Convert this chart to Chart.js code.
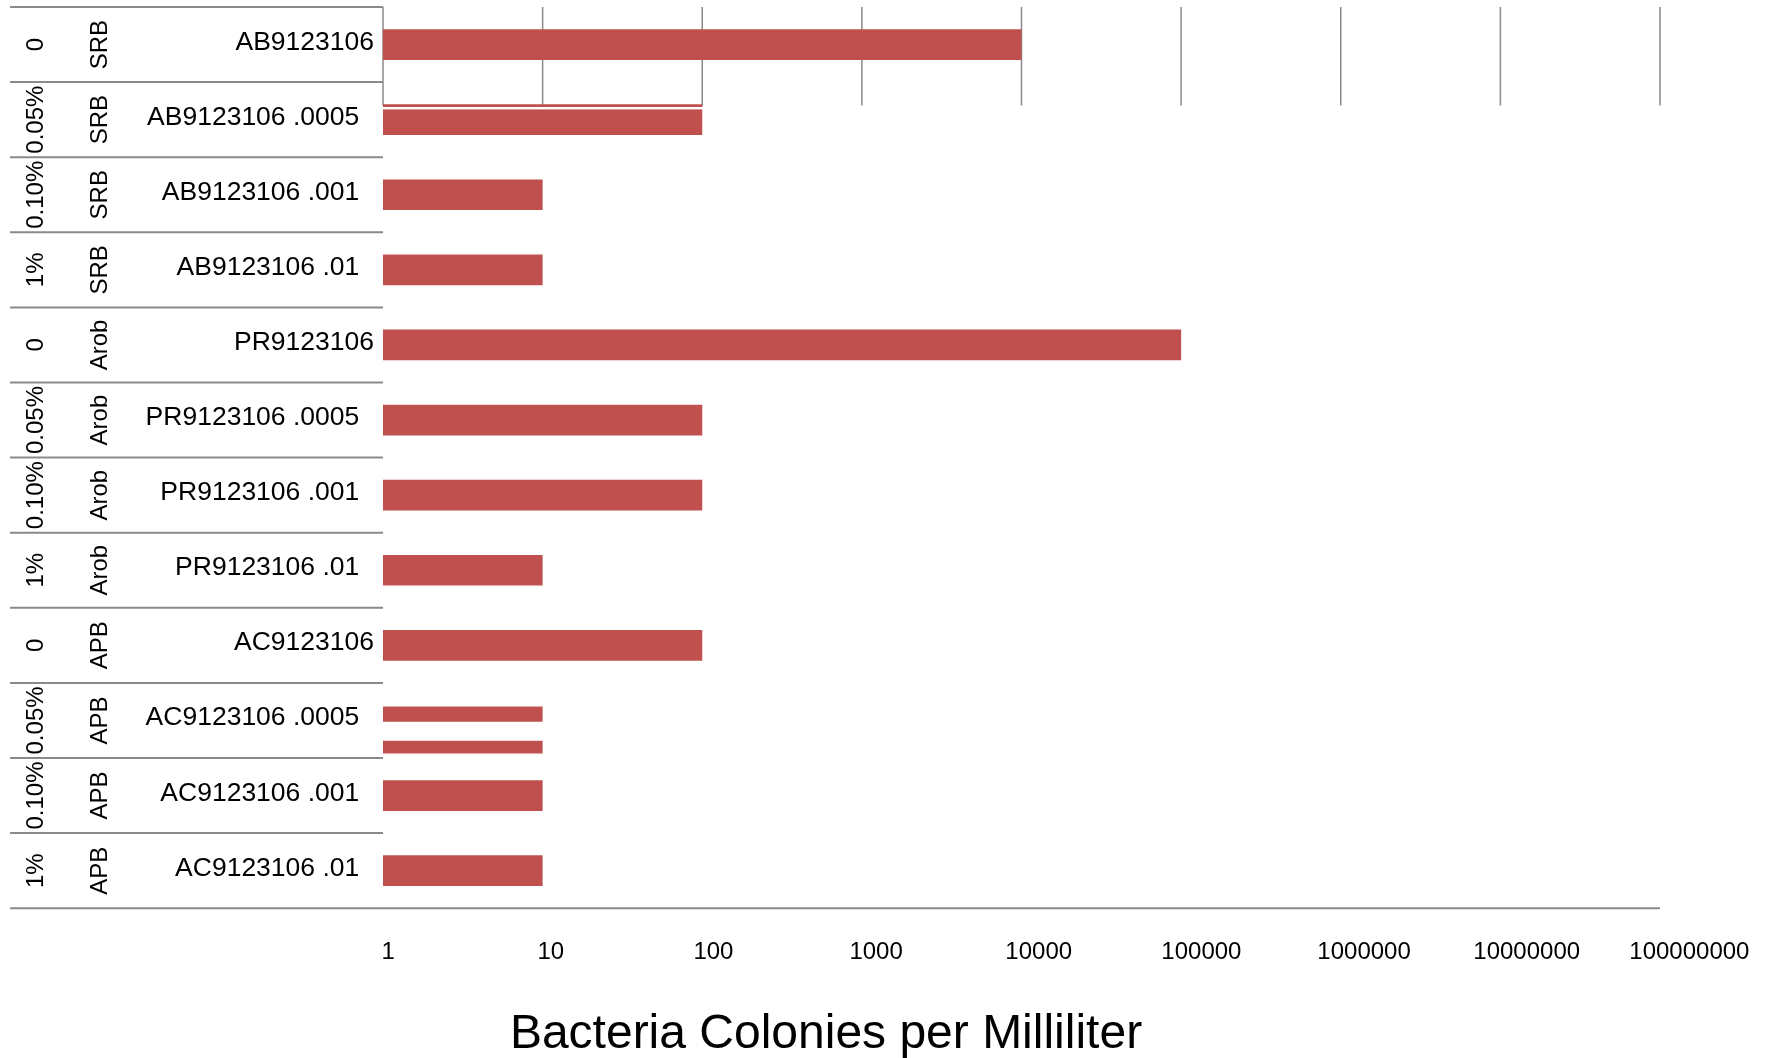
<!DOCTYPE html>
<html>
<head>
<meta charset="utf-8">
<script src="https://cdn.jsdelivr.net/npm/chart.js@4.4.1/dist/chart.umd.min.js"></script>
<style>
  html, body { margin: 0; padding: 0; background: #ffffff; }
  #wrap { width: 1769px; height: 1058px; }
</style>
</head>
<body>
<div id="wrap"><canvas id="chart" width="1769" height="1058"></canvas></div>
<script>
// Sample table: inhibitor concentration, bacteria group and sample id per row
const concentrations = ['0', '0.05%', '0.10%', '1%', '0', '0.05%', '0.10%', '1%', '0', '0.05%', '0.10%', '1%'];
const bacteriaTypes = ['SRB', 'SRB', 'SRB', 'SRB', 'Arob', 'Arob', 'Arob', 'Arob', 'APB', 'APB', 'APB', 'APB'];
const samples = [
  'AB9123106', 'AB9123106 .0005  ', 'AB9123106 .001  ', 'AB9123106 .01  ',
  'PR9123106', 'PR9123106 .0005  ', 'PR9123106 .001  ', 'PR9123106 .01  ',
  'AC9123106', 'AC9123106 .0005  ', 'AC9123106 .001  ', 'AC9123106 .01  '
];

// Colony counts (colonies / mL)
const colonies = [10000, 100, 10, 10, 100000, 100, 100, 10, 100, 10, 10, 10];
// Second reading, only taken for one sample
const repeatColonies = [null, null, null, null, null, null, null, null, null, 10, null, null];

// Log axis ticks
const tickValues = [1, 10, 100, 1000, 10000, 100000, 1000000, 10000000, 100000000];
const tickLabels = ['1', '10', '100', '1000', '10000', '100000', '1000000', '10000000', '100000000'];
const axisTitle = 'Bacteria Colonies per Milliliter';

const FONT = "'Liberation Sans', Arial, Helvetica, sans-serif";
const BAR = '#C0504D';
const RULE = '#8a8a8a';
const TABLE_LEFT = 10;
// Tick labels sit on a slightly wider spacing than the grid (in decades)
const LABEL_START = 0.032;
const LABEL_STEP = 1.019;

function drawRotated(ctx, text, x, y, size) {
  ctx.save();
  ctx.translate(x, y);
  ctx.rotate(-Math.PI / 2);
  ctx.font = size + 'px ' + FONT;
  ctx.textAlign = 'center';
  ctx.textBaseline = 'alphabetic';
  ctx.fillText(text, 0, 0);
  ctx.restore();
}

function hLine(ctx, x1, x2, y) {
  ctx.beginPath();
  ctx.moveTo(x1, y);
  ctx.lineTo(x2, y);
  ctx.stroke();
}

// Row labels, table rules, short grid block and axis title
const sampleTable = {
  id: 'sampleTable',
  beforeDatasetsDraw(chart) {
    const { ctx, chartArea: a, scales: { x } } = chart;
    const gridBottom = a.top + 98.5;
    ctx.save();
    ctx.strokeStyle = RULE;
    ctx.lineWidth = 1.5;
    tickValues.forEach(v => {
      const px = x.getPixelForValue(v);
      ctx.beginPath();
      ctx.moveTo(px, a.top);
      ctx.lineTo(px, gridBottom);
      ctx.stroke();
    });
    ctx.restore();
  },
  afterDatasetsDraw(chart) {
    const { ctx, chartArea: a } = chart;
    ctx.save();
    ctx.fillStyle = '#ffffff';
    ctx.fillRect(a.left, a.top + 100, a.width, 2.4);
    ctx.restore();
  },
  afterDraw(chart) {
    const { ctx, chartArea: a, scales: { y } } = chart;
    const band = y.getPixelForValue(1) - y.getPixelForValue(0);
    ctx.save();
    ctx.strokeStyle = RULE;
    ctx.lineWidth = 2;
    for (let i = 0; i < samples.length; i++) {
      hLine(ctx, TABLE_LEFT, a.left, y.getPixelForValue(i) - band / 2);
    }
    hLine(ctx, TABLE_LEFT, a.right, a.bottom);

    ctx.fillStyle = '#000000';
    samples.forEach((s, i) => {
      const cy = y.getPixelForValue(i);
      ctx.font = '26.5px ' + FONT;
      ctx.textAlign = 'right';
      ctx.textBaseline = 'alphabetic';
      ctx.fillText(s, 374, cy + 5);
      drawRotated(ctx, concentrations[i], 43, cy, 24);
      drawRotated(ctx, bacteriaTypes[i], 107, cy, 24);
    });

    ctx.font = '48px ' + FONT;
    ctx.textAlign = 'center';
    ctx.textBaseline = 'alphabetic';
    ctx.fillText(axisTitle, 826, 1048);
    ctx.restore();
  }
};

new Chart(document.getElementById('chart'), {
  type: 'bar',
  data: {
    labels: samples,
    datasets: [
      {
        label: 'Colonies',
        data: colonies,
        backgroundColor: BAR,
        categoryPercentage: 0.335,
        barPercentage: 1.22
      },
      {
        label: 'Repeat',
        data: repeatColonies,
        backgroundColor: BAR,
        categoryPercentage: 1.416,
        barPercentage: 0.239
      }
    ]
  },
  options: {
    indexAxis: 'y',
    responsive: false,
    animation: false,
    datasets: { bar: { skipNull: true, borderWidth: 0 } },
    layout: { padding: { left: 383, top: 7, right: 109, bottom: 61 } },
    plugins: {
      legend: { display: false },
      tooltip: { enabled: false }
    },
    scales: {
      x: {
        type: 'logarithmic',
        min: 1,
        max: 100000000,
        grid: { display: false, drawTicks: false },
        border: { display: false },
        afterBuildTicks: scale => {
          scale.ticks = tickValues.map((v, k) => ({ value: Math.pow(10, LABEL_START + k * LABEL_STEP) }));
        },
        afterFit: scale => {
          // the right padding already leaves room for the last label
          scale.paddingLeft = 0;
          scale.paddingRight = 0;
        },
        ticks: {
          autoSkip: false,
          maxRotation: 0,
          padding: 30,
          color: '#000000',
          font: { family: FONT, size: 24 },
          callback: (value, index) => tickLabels[index]
        }
      },
      y: { display: false }
    }
  },
  plugins: [sampleTable]
});
</script>
</body>
</html>
